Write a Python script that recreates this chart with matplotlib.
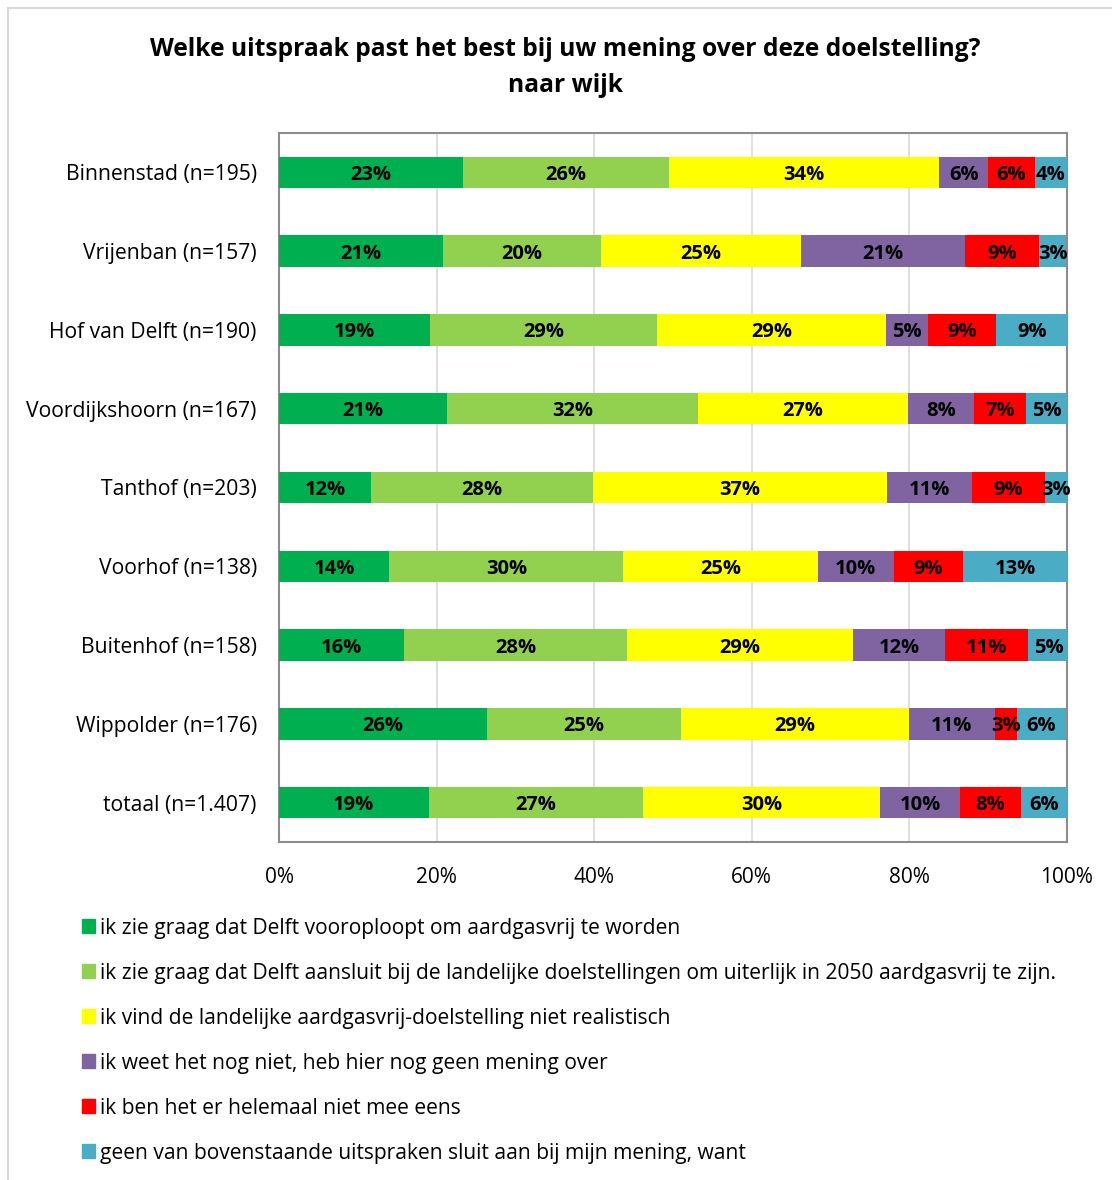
import matplotlib.pyplot as plt
from matplotlib.patches import Rectangle

plt.rcParams['font.family'] = ['Open Sans', 'DejaVu Sans']

wijken = ["Binnenstad (n=195)", "Vrijenban (n=157)", "Hof van Delft (n=190)",
          "Voordijkshoorn (n=167)", "Tanthof (n=203)", "Voorhof (n=138)",
          "Buitenhof (n=158)", "Wippolder (n=176)", "totaal (n=1.407)"]

vooroplopen = [23.4, 20.8, 19.2, 21.3, 11.7, 14.0, 15.9, 26.4, 19.0]
landelijk = [26.1, 20.1, 28.8, 31.9, 28.1, 29.7, 28.2, 24.6, 27.2]
niet_realistisch = [34.3, 25.3, 29.0, 26.6, 37.3, 24.7, 28.8, 28.9, 30.1]
weet_niet = [6.2, 20.9, 5.4, 8.4, 10.8, 9.6, 11.6, 10.9, 10.1]
niet_eens = [5.9, 9.4, 8.6, 6.6, 9.3, 8.8, 10.6, 2.8, 7.8]
geen = [4.1, 3.4, 9.1, 5.3, 2.8, 13.3, 5.1, 6.3, 5.8]

series = [vooroplopen, landelijk, niet_realistisch, weet_niet, niet_eens, geen]
namen = ["ik zie graag dat Delft vooroploopt om aardgasvrij te worden",
         "ik zie graag dat Delft aansluit bij de landelijke doelstellingen om uiterlijk in 2050 aardgasvrij te zijn.",
         "ik vind de landelijke aardgasvrij-doelstelling niet realistisch",
         "ik weet het nog niet, heb hier nog geen mening over",
         "ik ben het er helemaal niet mee eens",
         "geen van bovenstaande uitspraken sluit aan bij mijn mening, want"]
kleuren = ["#00B050", "#92D050", "#FFFF00", "#8064A2", "#FF0000", "#4BACC6"]

fig = plt.figure(figsize=(11.12, 11.8), dpi=100)
ax = fig.add_axes([279/1112, 1-842/1180, 788/1112, 709/1180])

y = list(range(len(wijken)))
links = [0.0] * len(wijken)
for waarden, kleur in zip(series, kleuren):
    bars = ax.barh(y, waarden, left=links, height=0.4, color=kleur, zorder=3)
    for b, w in zip(bars, waarden):
        ax.text(b.get_x() + b.get_width()/2, b.get_y() + b.get_height()/2,
                f"{round(w)}%", ha='center', va='center_baseline', fontsize=14.5,
                fontweight='bold', color='black', zorder=4)
    links = [l + w for l, w in zip(links, waarden)]

ax.set_xlim(0, 100)
ax.set_ylim(len(wijken) - 0.5, -0.5)
ax.set_yticks(y)
ax.set_yticklabels(wijken, fontsize=15.2)
ax.set_xticks(range(0, 101, 20))
ax.set_xticklabels([f"{t}%" for t in range(0, 101, 20)], fontsize=15)
ax.tick_params(axis='y', length=0, pad=16)
ax.tick_params(axis='x', length=0, pad=18)
ax.grid(axis='x', color='#D9D9D9', linewidth=1.2, zorder=0)
for s in ax.spines.values():
    s.set_color('#8C8C8C')
    s.set_linewidth(1.5)

fig.text(565/1112, 1-47/1180, "Welke uitspraak past het best bij uw mening over deze doelstelling?",
         ha='center', va='center_baseline', fontsize=17.7, fontweight='bold')
fig.text(565/1112, 1-83/1180, "naar wijk", ha='center', va='center_baseline',
         fontsize=17.7, fontweight='bold')

# legenda
for i, (naam, kleur) in enumerate(zip(namen, kleuren)):
    yy = 926 + i * 45
    fig.patches.append(Rectangle((82/1112, 1-(yy+7)/1180), 13/1112, 14/1180,
                                 transform=fig.transFigure, color=kleur))
    fig.text(100/1112, 1-yy/1180, naam, ha='left', va='center_baseline', fontsize=15.1)

fig.patches.append(Rectangle((8/1112, -0.01), 1.1, 1-8/1180 + 0.01,
                             transform=fig.transFigure, fill=False,
                             edgecolor='#D9D9D9', linewidth=1.5))

fig.savefig("out.png", dpi=100)
